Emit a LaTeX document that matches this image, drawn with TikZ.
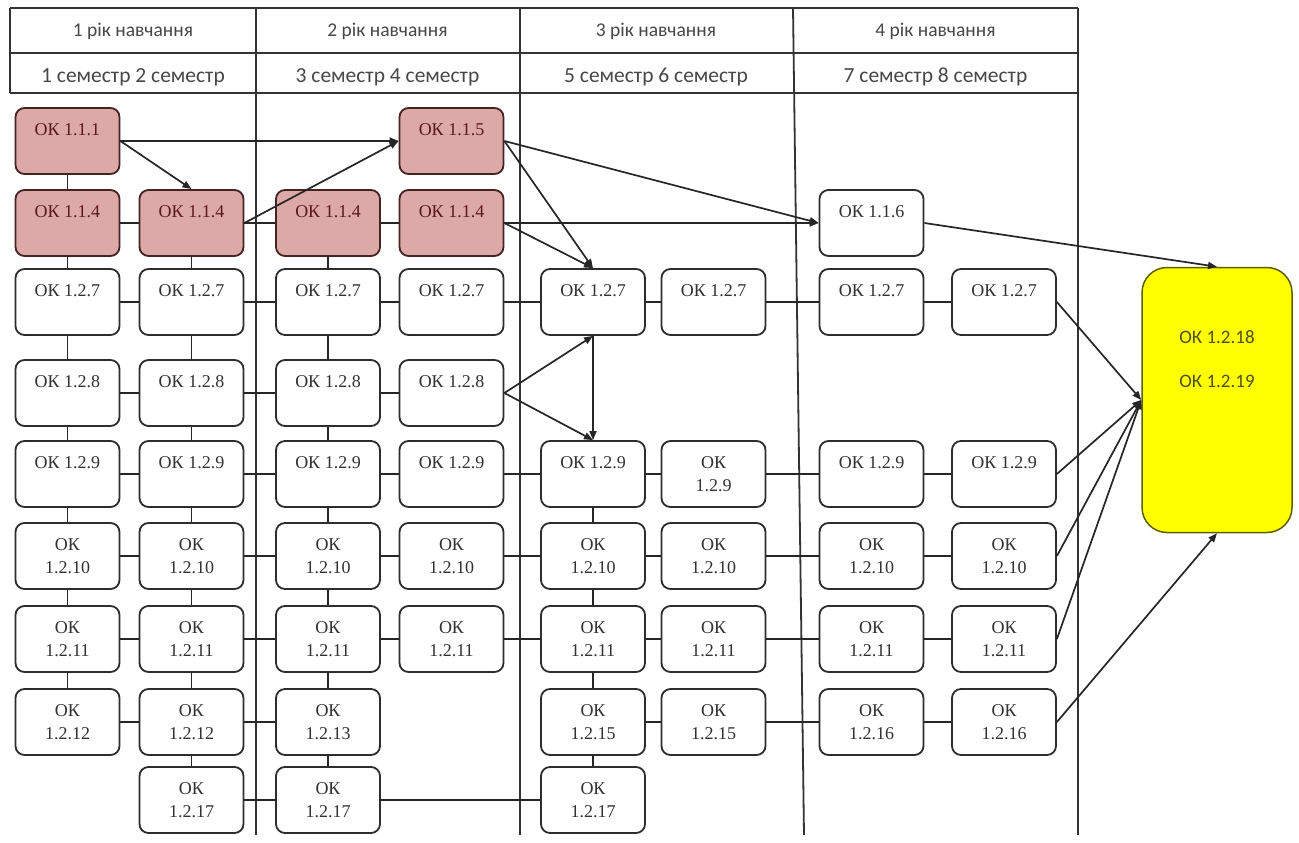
\documentclass[tikz,border=0pt]{standalone}
\usepackage{fontspec}
\setmainfont{Liberation Serif}
\newfontfamily\hdrfont{Carlito}
\usetikzlibrary{arrows.meta}
\definecolor{pinkfill}{RGB}{221,168,168}
\definecolor{pinkline}{RGB}{70,35,35}
\definecolor{pinktext}{RGB}{90,25,30}
\definecolor{boxline}{RGB}{45,45,45}
\definecolor{boxtext}{RGB}{50,50,50}
\definecolor{resfill}{RGB}{255,255,0}
\definecolor{resline}{RGB}{95,95,10}
\definecolor{restext}{RGB}{80,80,30}

\begin{document}
\begin{tikzpicture}[x=1pt,y=-1pt,
  box/.style={draw=boxline,line width=1.8pt,rounded corners=9pt,fill=white,
    minimum width=104pt,minimum height=66pt,align=center,text=boxtext,
    font=\fontsize{18}{23}\selectfont},
  onebox/.style={box,text height=12pt,text depth=23pt},
  redbox/.style={onebox,fill=pinkfill,draw=pinkline,text=pinktext},
  head/.style={font=\hdrfont\fontsize{19.5}{23}\selectfont,text=black!72},
  semhead/.style={head,font=\hdrfont\fontsize{21.5}{23}\selectfont},
  grid/.style={line width=1.8pt,black!80},
  link/.style={draw=black!85,line width=1.7pt},
  arr/.style={link,-{Triangle[length=9pt,width=7pt]}}]
\useasboundingbox (0,0) rectangle (1299,843);

% table head
\draw[grid] (10,8) -- (1078,8);
\draw[grid] (10,53) -- (1078,53);
\draw[grid] (10,93) -- (1078,93);
\draw[grid] (10,8) -- (10,93);
\draw[grid] (256,8) -- (256,835);
\draw[grid] (520,8) -- (520,835);
\draw[grid] (793,8) -- (804,835);
\draw[grid] (1078,8) -- (1078,835);

\node[head] (yr1) at (133,31) {1 рік навчання};
\node[head] (yr2) at (387.5,31) {2 рік навчання};
\node[head] (yr3) at (656,31) {3 рік навчання};
\node[head] (yr4) at (935.5,31) {4 рік навчання};
\node[semhead] (sm1) at (133,77) {1 семестр 2 семестр};
\node[semhead] (sm2) at (387.5,77) {3 семестр 4 семестр};
\node[semhead] (sm3) at (656,77) {5 семестр 6 семестр};
\node[semhead] (sm4) at (935.5,77) {7 семестр 8 семестр};

% components
\node[redbox] (a1) at (67.5,141) {ОК 1.1.1};
\node[redbox] (a4) at (451.5,141) {ОК 1.1.5};
\node[redbox] (b1) at (67.5,223) {ОК 1.1.4};
\node[redbox] (b2) at (191.5,223) {ОК 1.1.4};
\node[redbox] (b3) at (328,223) {ОК 1.1.4};
\node[redbox] (b4) at (451.5,223) {ОК 1.1.4};
\node[onebox] (b7) at (871.5,223) {ОК 1.1.6};

\foreach \n/\x in {1/67.5,2/191.5,3/328,4/451.5,5/593,6/713.5,7/871.5,8/1004}
  \node[onebox] (c\n) at (\x,302) {ОК 1.2.7};
\foreach \n/\x in {1/67.5,2/191.5,3/328,4/451.5}
  \node[onebox] (d\n) at (\x,393) {ОК 1.2.8};
\foreach \n/\x in {1/67.5,2/191.5,3/328,4/451.5,5/593,7/871.5,8/1004}
  \node[onebox] (e\n) at (\x,474) {ОК 1.2.9};
\node[box] (e6) at (713.5,474) {ОК\\1.2.9};
\foreach \n/\x in {1/67.5,2/191.5,3/328,4/451.5,5/593,6/713.5,7/871.5,8/1004}
  \node[box] (f\n) at (\x,556) {ОК\\1.2.10};
\foreach \n/\x in {1/67.5,2/191.5,3/328,4/451.5,5/593,6/713.5,7/871.5,8/1004}
  \node[box] (g\n) at (\x,639) {ОК\\1.2.11};

\node[box] (h1) at (67.5,722) {ОК\\1.2.12};
\node[box] (h2) at (191.5,722) {ОК\\1.2.12};
\node[box] (h3) at (328,722) {ОК\\1.2.13};
\node[box] (h5) at (593,722) {ОК\\1.2.15};
\node[box] (h6) at (713.5,722) {ОК\\1.2.15};
\node[box] (h7) at (871.5,722) {ОК\\1.2.16};
\node[box] (h8) at (1004,722) {ОК\\1.2.16};

\node[box] (i2) at (191.5,800) {ОК\\1.2.17};
\node[box] (i3) at (328,800) {ОК\\1.2.17};
\node[box] (i5) at (593,800) {ОК\\1.2.17};

\node[draw=resline,fill=resfill,line width=1.5pt,rounded corners=25pt,
  minimum width=150pt,minimum height=265pt,align=center,
  text height=56pt,text depth=82pt,text=restext,
  font=\hdrfont\fontsize{19}{23}\selectfont] (res) at (1217,400)
  {ОК 1.2.18\\[21pt]ОК 1.2.19};

% plain links
\draw[link] (a1) -- (b1) -- (c1) -- (d1) -- (e1) -- (f1) -- (g1) -- (h1);
\draw[link] (b2) -- (c2) -- (d2) -- (e2) -- (f2) -- (g2) -- (h2) -- (i2);
\draw[link] (b3) -- (c3) -- (d3) -- (e3) -- (f3) -- (g3) -- (h3) -- (i3);
\draw[link] (e5) -- (f5) -- (g5) -- (h5) -- (i5);
\draw[link] (b1) -- (b2) -- (b3) -- (b4);
\draw[link] (d1) -- (d2) -- (d3) -- (d4);
\foreach \r in {c,e,f,g}
  \draw[link] (\r1) -- (\r2) -- (\r3) -- (\r4) -- (\r5) -- (\r6) -- (\r7) -- (\r8);
\draw[link] (h1) -- (h2) -- (h3);
\draw[link] (h5) -- (h6) -- (h7) -- (h8);
\draw[link] (i2) -- (i3) -- (i5);

% arrows
\draw[arr] (a1.east) -- (b2.north);
\draw[arr] (a1) -- (a4);
\draw[arr] (b2.east) -- (a4.west);
\draw[arr] (a4.east) -- (c5.north);
\draw[arr] (b4.east) -- (c5.north);
\draw[arr] (a4.east) -- (b7.west);
\draw[arr] (b4) -- (b7);
\draw[arr] (b7.east) -- (res.north);
\draw[arr] (d4.east) -- (c5.south);
\draw[arr] (d4.east) -- (e5.north);
\draw[arr] (c5) -- (e5);
\foreach \r in {c,e,f,g}
  \draw[arr] (\r8.east) -- (res.west);
\draw[arr] (h8.east) -- (res.south);
\end{tikzpicture}
\end{document}
